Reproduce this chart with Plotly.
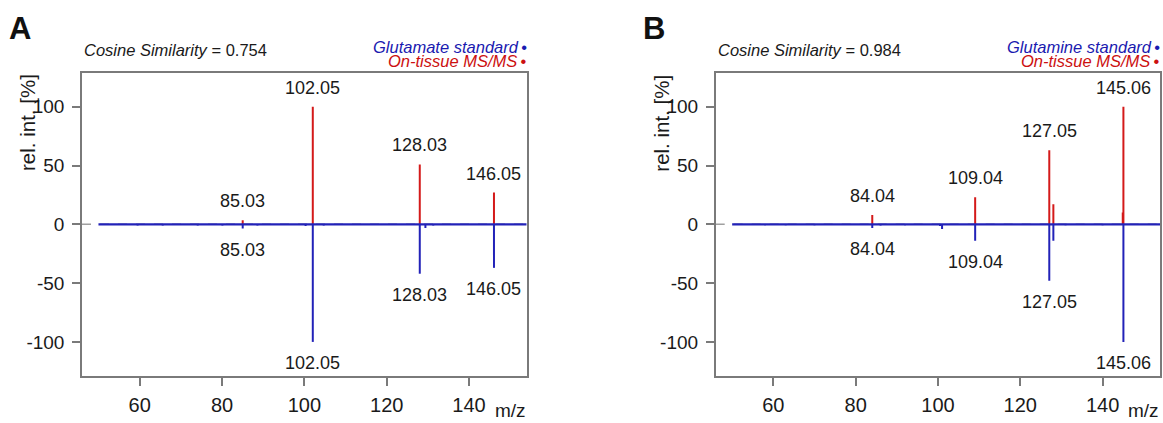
import plotly.graph_objects as go

# ---------------- data ----------------
# Panel A: Glutamate
A_red_mz = [85.03, 102.05, 128.03, 146.05]
A_red_int = [3.5, 100, 51, 27]
A_blue_mz = [59.5, 65.6, 74.1, 80.1, 85.03, 88.6, 100.3, 102.05, 104.7, 128.03, 129.4, 131.3, 146.05]
A_blue_int = [-1, -1, -1, -1, -3.5, -1, -1.5, -100, -1, -42, -3, -1, -37]
A_labels = [85.03, 102.05, 128.03, 146.05]
A_cos = "0.754"
A_std_name = "Glutamate standard"

# Panel B: Glutamine
B_red_mz = [84.04, 109.04, 127.05, 128.04, 144.9, 145.06]
B_red_int = [8, 23, 63, 17, 10, 100]
B_blue_mz = [58.0, 63.0, 70.0, 84.04, 86.05, 92.0, 100.5, 101.0, 109.04, 127.05, 128.04, 131.0, 140.0, 145.06]
B_blue_int = [-0.8, -0.8, -0.8, -3, -1, -0.8, -1.5, -4, -14, -48, -14, -0.8, -0.8, -100]
B_labels = [84.04, 109.04, 127.05, 145.06]
B_cos = "0.984"
B_std_name = "Glutamine standard"

spectrum_start = 50
x_ticks = [60, 80, 100, 120, 140]
y_ticks = [-100, -50, 0, 50, 100]

# ---------------- styling ----------------
W, H = 1163, 423
FONT = "Liberation Sans, Arial, sans-serif"
RED = "#D41A1A"
BLUE = "#2222B8"
RED_T = "#CC1010"
BLUE_T = "#1A1AB0"
GREY = "#7a7a7a"
XR = [46, 154]
YR = [-129, 129]

def px_x(p):
    return p / W

def px_y(p):
    return 1 - p / H

panels = [
    dict(letter="A", red=(A_red_mz, A_red_int), blue=(A_blue_mz, A_blue_int), labels=A_labels,
         cos=A_cos, std=A_std_name, x0=82, x1=526.7, xa="x", ya="y"),
    dict(letter="B", red=(B_red_mz, B_red_int), blue=(B_blue_mz, B_blue_int), labels=B_labels,
         cos=B_cos, std=B_std_name, x0=715.7, x1=1160.2, xa="x2", ya="y2"),
]
Y0, Y1 = 72.7, 376

fig = go.Figure()
annotations = []
shapes = []

def sticks(mz, inten):
    xs, ys = [], []
    for m, v in zip(mz, inten):
        xs += [m, m, None]
        ys += [0, v, None]
    return xs, ys

for i, p in enumerate(panels):
    xa, ya = p["xa"], p["ya"]
    axn = "" if i == 0 else str(i + 1)
    shapes.append(dict(type="line", xref=f"{xa} domain", yref=ya, x0=0, x1=1, y0=0, y1=0,
                       line=dict(color="#a0a0a0", width=1.5, dash="dash"), layer="below"))
    rx, ry = sticks(*p["red"])
    fig.add_trace(go.Scatter(x=rx, y=ry, mode="lines", line=dict(color=RED, width=2),
                             xaxis=xa, yaxis=ya, showlegend=False, hoverinfo="skip"))
    bx, by = sticks(*p["blue"])
    fig.add_trace(go.Scatter(x=bx, y=by, mode="lines", line=dict(color=BLUE, width=2),
                             xaxis=xa, yaxis=ya, showlegend=False, hoverinfo="skip"))
    fig.add_trace(go.Scatter(x=[spectrum_start, XR[1]], y=[0, 0], mode="lines",
                             line=dict(color=BLUE, width=2.2),
                             xaxis=xa, yaxis=ya, showlegend=False, hoverinfo="skip"))

    fig.layout[f"xaxis{axn}"] = dict(
        domain=[px_x(p["x0"]), px_x(p["x1"])], range=XR, anchor=ya,
        tickvals=x_ticks, ticktext=[str(t) for t in x_ticks],
        ticks="outside", ticklen=8, tickwidth=1.5, tickcolor=GREY,
        ticklabelstandoff=2,
        showline=True, linecolor=GREY, linewidth=1.5, mirror=True,
        showgrid=False, zeroline=False,
        tickfont=dict(family=FONT, size=20, color="#1a1a1a"))
    fig.layout[f"yaxis{axn}"] = dict(
        domain=[px_y(Y1), px_y(Y0)], range=YR, anchor=xa,
        tickvals=y_ticks, ticktext=[str(t) for t in y_ticks],
        ticks="outside", ticklen=8, tickwidth=1.5, tickcolor=GREY,
        ticklabelstandoff=4,
        showline=True, linecolor=GREY, linewidth=1.5, mirror=True,
        showgrid=False, zeroline=False,
        tickfont=dict(family=FONT, size=19, color="#1a1a1a"))

    rmz, rint = p["red"]
    bmz, bint = p["blue"]
    for lab in p["labels"]:
        top = max(v for m, v in zip(rmz, rint) if abs(m - lab) < 0.02)
        bot = min(v for m, v in zip(bmz, bint) if abs(m - lab) < 0.02)
        annotations.append(dict(x=lab, y=top, xref=xa, yref=ya, text=f"{lab:.2f}",
                                showarrow=False, yanchor="middle", yshift=19,
                                font=dict(family=FONT, size=18, color="#1a1a1a")))
        annotations.append(dict(x=lab, y=bot, xref=xa, yref=ya, text=f"{lab:.2f}",
                                showarrow=False, yanchor="middle", yshift=-21.5,
                                font=dict(family=FONT, size=18, color="#1a1a1a")))

    annotations.append(dict(x=px_x(p["x0"] - 62), y=px_y(29), xref="paper", yref="paper",
                            text=f"<b>{p['letter']}</b>", showarrow=False,
                            xanchor="center", yanchor="middle",
                            font=dict(family=FONT, size=31, color="#111")))
    annotations.append(dict(x=px_x(p["x0"]), y=px_y(50), xref="paper", yref="paper",
                            text=f"<i>Cosine Similarity</i> = {p['cos']}", showarrow=False,
                            xanchor="left", yanchor="middle",
                            font=dict(family=FONT, size=16.5, color="#1a1a1a")))
    annotations.append(dict(x=px_x(p["x1"] + 1), y=px_y(46.5), xref="paper", yref="paper",
                            text=f"<i>{p['std']}</i>\u2009•", showarrow=False,
                            xanchor="right", yanchor="middle", borderpad=0,
                            font=dict(family=FONT, size=16.5, color=BLUE_T)))
    annotations.append(dict(x=px_x(p["x1"] + 1), y=px_y(61.5), xref="paper", yref="paper",
                            text="<i>On-tissue MS/MS</i>\u2009•", showarrow=False,
                            xanchor="right", yanchor="middle", borderpad=0,
                            font=dict(family=FONT, size=16.5, color=RED_T)))
    annotations.append(dict(x=px_x(p["x0"] - 54), y=px_y(123), xref="paper", yref="paper",
                            text="rel. int. [%]", showarrow=False, textangle=-90,
                            xanchor="center", yanchor="middle",
                            font=dict(family=FONT, size=20.5, color="#1a1a1a")))
    annotations.append(dict(x=px_x(p["x1"]), y=px_y(410), xref="paper", yref="paper",
                            text="m/z", showarrow=False,
                            xanchor="right", yanchor="middle", borderpad=0,
                            font=dict(family=FONT, size=19, color="#1a1a1a")))

fig.update_layout(
    width=W, height=H,
    margin=dict(l=0, r=0, t=0, b=0),
    paper_bgcolor="white", plot_bgcolor="white",
    annotations=annotations, shapes=shapes,
    showlegend=False,
)

fig.write_html("out.html", config={"displayModeBar": False})

# remove the default page margin so the figure fills the window exactly
with open("out.html", "r", encoding="utf-8") as f:
    html = f.read()
html = html.replace("<head>", "<head><style>html,body{margin:0;padding:0;overflow:hidden}</style>", 1)
with open("out.html", "w", encoding="utf-8") as f:
    f.write(html)
